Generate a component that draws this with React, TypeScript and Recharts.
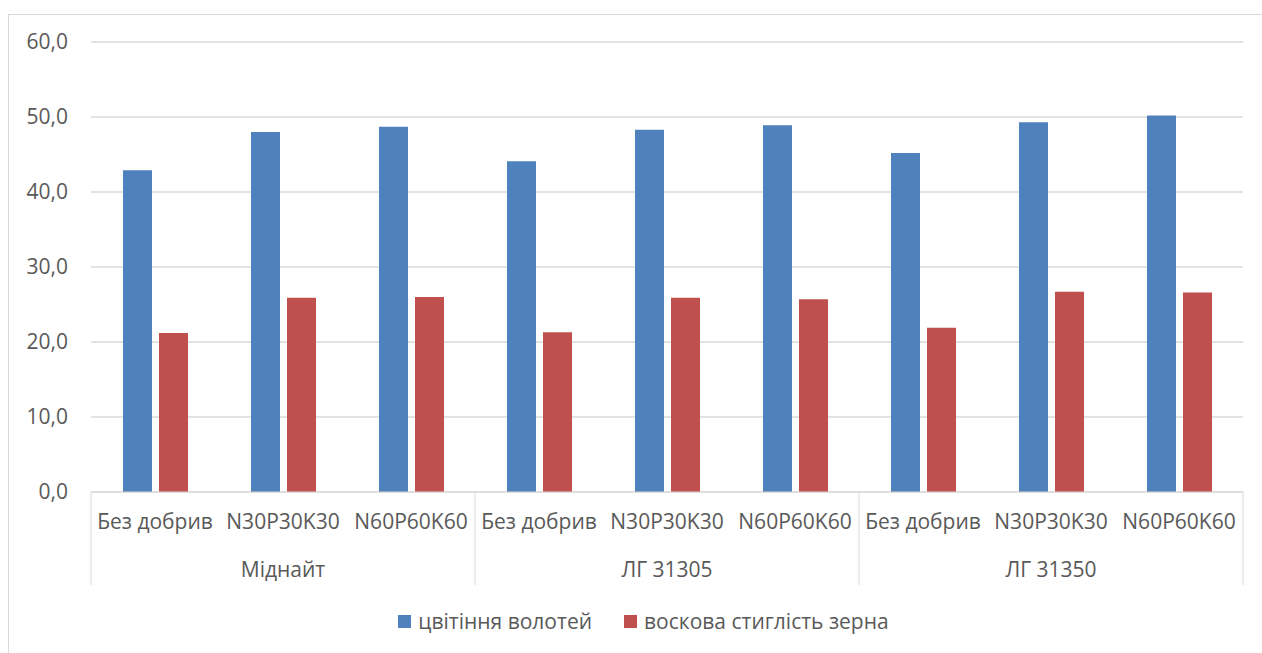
import { Bar, BarChart, CartesianGrid, Legend, XAxis, YAxis } from "recharts";

const treatments = [
  "Без добрив", "N30P30K30", "N60P60K60",
  "Без добрив", "N30P30K30", "N60P60K60",
  "Без добрив", "N30P30K30", "N60P60K60",
];
const hybrids = ["Міднайт", "ЛГ 31305", "ЛГ 31350"];
const flowering = [42.9, 48.0, 48.7, 44.1, 48.3, 48.9, 45.2, 49.3, 50.2];
const waxRipeness = [21.2, 25.9, 26.0, 21.3, 25.9, 25.7, 21.9, 26.7, 26.6];
const yTicks = [0, 10, 20, 30, 40, 50, 60];

const FONT = "'Open Sans', sans-serif";
const FS = 21;
const TEXT = "#595959";
const LINE = "#d9d9d9";
const BLUE = "#4f81bd";
const RED = "#c0504d";

const rows = treatments.map((t, i) => ({
  name: t,
  group: hybrids[Math.floor(i / 3)],
  flowering: flowering[i],
  wax: waxRipeness[i],
}));

const CHART_W = 1250;
const PLOT_W = 1152;
const BAND = PLOT_W / treatments.length;

// second axis row: hybrid names centred under each triple, with separators
function GroupTick(props: any) {
  const { x, y, index, payload } = props;
  const lineTop = y - 45;
  const lineBottom = y + 48;
  return (
    <g>
      {index % 3 === 0 && (
        <line x1={x - BAND / 2} x2={x - BAND / 2} y1={lineTop} y2={lineBottom} stroke={LINE} />
      )}
      {index === treatments.length - 1 && (
        <line x1={x + BAND / 2} x2={x + BAND / 2} y1={lineTop} y2={lineBottom} stroke={LINE} />
      )}
      {index % 3 === 1 && (
        <text x={x} y={y + 40} textAnchor="middle" fill={TEXT} fontSize={FS} fontFamily={FONT}>
          {payload.value}
        </text>
      )}
    </g>
  );
}

function LegendBox() {
  const items = [
    { label: "цвітіння волотей", color: BLUE },
    { label: "воскова стиглість зерна", color: RED },
  ];
  return (
    <div
      style={{
        display: "flex",
        justifyContent: "center",
        alignItems: "center",
        height: 30,
        gap: 32,
        paddingLeft: 35,
        boxSizing: "border-box",
      }}
    >
      {items.map((it) => (
        <div key={it.label} style={{ display: "flex", alignItems: "center", gap: 7 }}>
          <span style={{ width: 13, height: 13, background: it.color, display: "inline-block" }} />
          <span style={{ color: TEXT, fontSize: FS, fontFamily: FONT }}>{it.label}</span>
        </div>
      ))}
    </div>
  );
}

export default function App() {
  return (
    <div style={{ position: "fixed", inset: 0, overflow: "hidden", background: "#fff" }}>
      <div
        style={{
          position: "absolute",
          left: 8,
          top: 14,
          width: 1262,
          height: 660,
          border: `1px solid ${LINE}`,
        }}
      >
        <BarChart
          width={CHART_W}
          height={639}
          data={rows}
          margin={{ top: 27, right: 16, bottom: 18, left: 0 }}
          barSize={29}
          barGap={7}
        >
          <CartesianGrid vertical={false} stroke={LINE} strokeWidth={1.5} />
          <YAxis
            width={82}
            domain={[0, 60]}
            ticks={yTicks}
            axisLine={false}
            tickLine={false}
            tickSize={0}
            tickMargin={23}
            tickFormatter={(v: number) => v.toFixed(1).replace(".", ",")}
            tick={{ fill: TEXT, fontSize: FS, fontFamily: FONT }}
          />
          <XAxis
            dataKey="name"
            height={45}
            interval={0}
            axisLine={{ stroke: LINE }}
            tickLine={false}
            tickSize={0}
            tickMargin={22}
            tick={{ fill: TEXT, fontSize: FS, fontFamily: FONT }}
          />
          <XAxis
            xAxisId="group"
            dataKey="group"
            height={69}
            interval={0}
            axisLine={false}
            tickLine={false}
            tickSize={0}
            tickMargin={0}
            tick={<GroupTick />}
          />
          <Legend verticalAlign="bottom" height={30} content={() => <LegendBox />} />
          <Bar dataKey="flowering" name="цвітіння волотей" fill={BLUE} isAnimationActive={false} />
          <Bar dataKey="wax" name="воскова стиглість зерна" fill={RED} isAnimationActive={false} />
        </BarChart>
      </div>
    </div>
  );
}
